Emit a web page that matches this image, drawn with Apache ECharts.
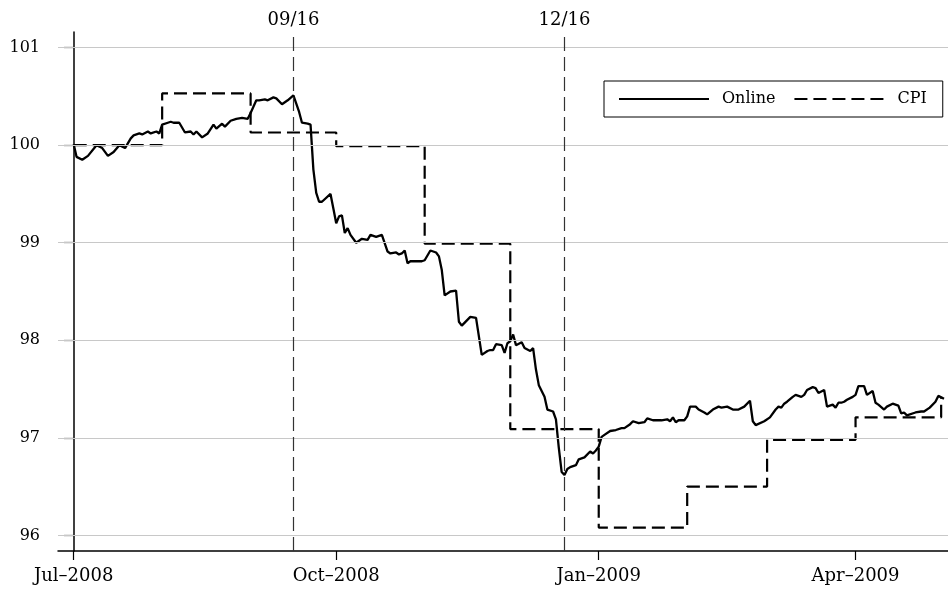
<!DOCTYPE html>
<html><head><meta charset="utf-8">
<script src="https://cdn.jsdelivr.net/npm/echarts@6/dist/echarts.min.js"></script>
<style>html,body{margin:0;padding:0;background:#fff}#c{width:948px;height:589px}</style>
</head><body><div id="c"></div>
<script>
const startDate = '2008-07-01';
const onlineDates = ['2008-07-01','2008-07-02','2008-07-04','2008-07-06','2008-07-09','2008-07-11','2008-07-13','2008-07-15','2008-07-17','2008-07-19','2008-07-21','2008-07-22','2008-07-24','2008-07-25','2008-07-27','2008-07-28','2008-07-30','2008-07-31',
'2008-08-01','2008-08-03','2008-08-04','2008-08-05','2008-08-07','2008-08-09','2008-08-11','2008-08-12','2008-08-13','2008-08-15','2008-08-17','2008-08-19','2008-08-20','2008-08-22','2008-08-23','2008-08-25','2008-08-27','2008-08-29','2008-08-31',
'2008-09-01','2008-09-03','2008-09-04','2008-09-06','2008-09-07','2008-09-09','2008-09-10','2008-09-12','2008-09-14','2008-09-16','2008-09-18','2008-09-19','2008-09-21','2008-09-22','2008-09-23','2008-09-24','2008-09-25','2008-09-26','2008-09-29','2008-09-30',
'2008-10-01','2008-10-02','2008-10-03','2008-10-04','2008-10-05','2008-10-06','2008-10-08','2008-10-10','2008-10-12','2008-10-13','2008-10-15','2008-10-17','2008-10-19','2008-10-20','2008-10-22','2008-10-23','2008-10-24','2008-10-25','2008-10-26','2008-10-27','2008-10-29','2008-10-31',
'2008-11-01','2008-11-03','2008-11-05','2008-11-06','2008-11-07','2008-11-08','2008-11-10','2008-11-12','2008-11-13','2008-11-14','2008-11-17','2008-11-19','2008-11-21','2008-11-23','2008-11-24','2008-11-25','2008-11-26','2008-11-28','2008-11-29','2008-11-30',
'2008-12-01','2008-12-02','2008-12-03','2008-12-05','2008-12-06','2008-12-08','2008-12-09','2008-12-10','2008-12-11','2008-12-13','2008-12-14','2008-12-16','2008-12-17','2008-12-18','2008-12-19','2008-12-20','2008-12-21','2008-12-22','2008-12-24','2008-12-25','2008-12-27','2008-12-29','2008-12-30','2008-12-31',
'2009-01-01','2009-01-02','2009-01-03','2009-01-05','2009-01-07','2009-01-09','2009-01-10','2009-01-12','2009-01-13','2009-01-15','2009-01-17','2009-01-18','2009-01-20','2009-01-21','2009-01-23','2009-01-25','2009-01-26','2009-01-27','2009-01-28','2009-01-29','2009-01-31',
'2009-02-01','2009-02-02','2009-02-04','2009-02-05','2009-02-07','2009-02-08','2009-02-10','2009-02-12','2009-02-13','2009-02-15','2009-02-17','2009-02-19','2009-02-21','2009-02-23','2009-02-24','2009-02-25','2009-02-28',
'2009-03-02','2009-03-04','2009-03-05','2009-03-06','2009-03-07','2009-03-08','2009-03-10','2009-03-11','2009-03-13','2009-03-14','2009-03-15','2009-03-17','2009-03-18','2009-03-19','2009-03-21','2009-03-22','2009-03-24','2009-03-25','2009-03-26','2009-03-27','2009-03-28','2009-03-29','2009-03-31',
'2009-04-01','2009-04-02','2009-04-04','2009-04-05','2009-04-07','2009-04-08','2009-04-09','2009-04-11','2009-04-12','2009-04-14','2009-04-16','2009-04-17','2009-04-18','2009-04-19','2009-04-22','2009-04-24','2009-04-25','2009-04-27','2009-04-29','2009-04-30','2009-05-02'];
const onlineValues = [100.01,99.88,99.85,99.89,100.00,99.97,99.89,99.93,100.00,99.97,100.07,100.10,100.12,100.11,100.14,100.12,100.14,100.12,
100.21,100.23,100.24,100.23,100.23,100.13,100.14,100.11,100.14,100.08,100.12,100.21,100.17,100.22,100.19,100.25,100.27,100.28,100.27,
100.33,100.46,100.46,100.47,100.46,100.49,100.48,100.42,100.46,100.51,100.34,100.23,100.22,100.21,99.75,99.51,99.42,99.42,99.50,99.35,
99.20,99.27,99.28,99.10,99.15,99.08,99.00,99.04,99.03,99.08,99.06,99.08,98.91,98.89,98.90,98.88,98.89,98.92,98.79,98.81,98.81,98.81,
98.82,98.92,98.90,98.86,98.72,98.46,98.50,98.51,98.19,98.15,98.24,98.23,97.85,97.89,97.90,97.90,97.96,97.95,97.87,97.97,
97.99,98.06,97.95,97.98,97.92,97.89,97.92,97.70,97.54,97.42,97.29,97.27,97.19,96.90,96.65,96.62,96.68,96.70,96.72,96.78,96.80,96.86,96.84,96.87,
96.91,97.01,97.03,97.07,97.08,97.10,97.10,97.14,97.17,97.15,97.16,97.20,97.18,97.18,97.18,97.19,97.17,97.21,97.16,97.18,97.18,
97.22,97.32,97.32,97.29,97.26,97.24,97.29,97.32,97.31,97.32,97.29,97.29,97.32,97.38,97.17,97.13,97.17,
97.21,97.29,97.32,97.31,97.35,97.37,97.42,97.44,97.42,97.44,97.49,97.52,97.51,97.46,97.49,97.32,97.34,97.31,97.36,97.36,97.37,97.39,97.42,
97.44,97.53,97.53,97.44,97.48,97.36,97.34,97.29,97.32,97.35,97.33,97.25,97.26,97.23,97.26,97.27,97.27,97.31,97.37,97.43,97.40];
const cpiDates = ['2008-07-01','2008-08-01','2008-09-01','2008-10-01','2008-11-01','2008-12-01','2009-01-01','2009-02-01','2009-03-01','2009-04-01','2009-05-01'];
const cpiValues = [100.00,100.53,100.13,99.99,98.99,97.09,96.08,96.50,96.98,97.21,97.42];
const eventDates = ['2008-09-16','2008-12-20'];
const eventLabels = ['09/16','12/16'];
const xTickDates = ['2008-07-01','2008-10-01','2009-01-01','2009-04-01'];
const xTickLabels = ['Jul\u20132008','Oct\u20132008','Jan\u20132009','Apr\u20132009'];
const yTicks = [96,97,98,99,100,101];

const DAY = 86400000;
const dayOf = d => (Date.parse(d) - Date.parse(startDate)) / DAY;
const xTickDays = xTickDates.map(dayOf);
const FONT = 'DejaVu Serif';

const chart = echarts.init(document.getElementById('c'), null, {renderer:'canvas'});
chart.setOption({
  animation:false,
  backgroundColor:'#fff',
  grid:{left:58, right:0, top:32, bottom:38},
  legend:{
    data:['Online','CPI'], left:604, top:81,
    padding:[10,16,10,14], itemGap:18, itemWidth:90, itemHeight:14,
    borderColor:'#000', borderWidth:1,
    itemStyle:{color:'rgba(0,0,0,0)', borderWidth:0, opacity:0},
    textStyle:{fontFamily:FONT, fontSize:16, color:'#000', padding:[0,0,0,8]}
  },
  xAxis:{
    type:'value', min:-5.5, max:306.4,
    axisLine:{show:true, onZero:false, lineStyle:{color:'#000', width:1.5}},
    axisTick:{show:true, length:9, customValues:xTickDays, lineStyle:{color:'#000', width:1.2}},
    axisLabel:{customValues:xTickDays, margin:16, fontFamily:FONT, fontSize:18, color:'#000',
      formatter:v=>{const i=xTickDays.findIndex(t=>Math.abs(t-v)<0.01);return i>=0?xTickLabels[i]:'';}},
    splitLine:{show:false}
  },
  yAxis:{
    type:'value', min:95.84, max:101.16,
    axisLine:{show:true, lineStyle:{color:'#000', width:1.5}},
    axisTick:{show:true, length:10, customValues:yTicks, lineStyle:{color:'#000', width:1.2}},
    axisLabel:{customValues:yTicks, margin:18, fontFamily:FONT, fontSize:16, color:'#000'},
    splitLine:{show:false}
  },
  series:[
    {name:'grid', type:'line', data:[], z:1, silent:true,
      markLine:{silent:true, symbol:'none', label:{show:false},
        lineStyle:{color:'#c8c8c8', width:1.2, type:'solid'},
        data:yTicks.map(v=>({yAxis:v}))}},
    {name:'CPI', type:'line', step:'end', symbol:'none', z:3,
      data:cpiDates.map((d,i)=>[dayOf(d), cpiValues[i]]),
      lineStyle:{color:'#000', width:2.2, type:[13,6]}, itemStyle:{color:'#000'}},
    {name:'Online', type:'line', symbol:'none', z:4,
      data:onlineDates.map((d,i)=>[dayOf(d), onlineValues[i]]),
      lineStyle:{color:'#000', width:2.3}, itemStyle:{color:'#000'},
      markLine:{silent:true, symbol:'none',
        lineStyle:{color:'#333', width:1.2, type:[14,6]},
        label:{show:true, position:'end', distance:3, fontFamily:FONT, fontSize:18, color:'#000'},
        data:eventDates.map((d,i)=>({xAxis:dayOf(d), label:{formatter:eventLabels[i]}}))}}
  ]
});
</script></body></html>
